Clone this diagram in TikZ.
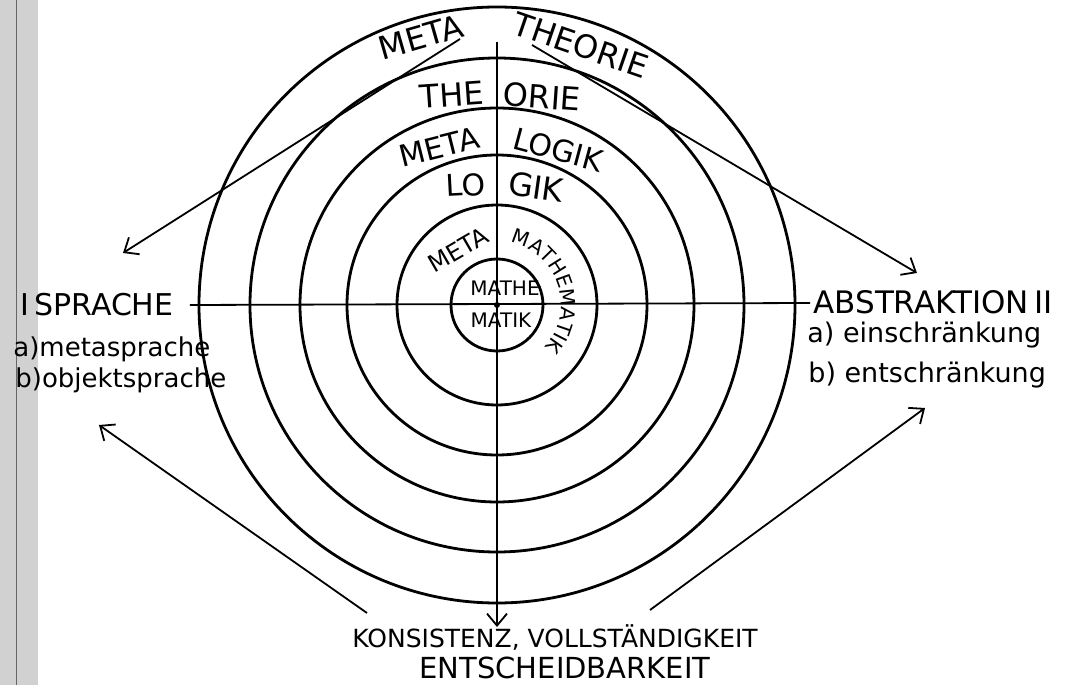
\documentclass[tikz,border=0pt]{standalone}
\usepackage{fontspec}
\setmainfont{DejaVu Sans}
\usetikzlibrary{arrows.meta,decorations.text}
\newcommand{\fsz}[1]{\fontsize{#1}{#1}\selectfont}

\begin{document}
\begin{tikzpicture}[x=0.5pt, y=0.5pt, every node/.style={inner sep=0pt},
  ring/.style={line width=1.4pt},
  axis/.style={line width=0.9pt},
  arr/.style={line width=0.9pt, -{Straight Barb[length=6pt,width=10pt]}}]
\useasboundingbox (-497,-380) rectangle (569,305);
% edge of the scanned sheet
\fill[black!18] (-497,-380) rectangle (-459,305);
\draw[black!60, line width=0.5pt] (-480,-380) -- (-480,305);

\coordinate (c) at (0,0);
\foreach \r in {298,247,197,150,100,46}
  \draw[ring] (c) circle (\r);

% axes
\coordinate (ytop) at (0,263);
\coordinate (ybot) at (0,-322);
\coordinate (xl) at (-307,0);
\coordinate (xr) at (313,2);
\draw[axis] (xl) -- (xr);
\draw[arr] (ytop) -- (ybot);
\fill (c) circle (3);

% rings
\node[rotate=16, font=\fsz{16}] (metaT) at (-76,268) {META};
\node[rotate=-19, font=\fsz{16}] (theorieT) at (84,260) {THEORIE};
\node[rotate=4, font=\fsz{16}] (the) at (-45,210) {THE};
\node[rotate=-4, font=\fsz{16}] (orie) at (45,208) {ORIE};
\node[rotate=14, font=\fsz{15}] (metaL) at (-58,158) {META};
\node[rotate=-15, font=\fsz{15}] (logikM) at (61,155) {LOGIK};
\node[rotate=3, font=\fsz{15}] (lo) at (-31,120) {LO};
\node[rotate=-8, font=\fsz{16}] (gik) at (39,118) {GIK};
\node[rotate=30, font=\fsz{12}] (metaM) at (-39,55) {META};
\path[decorate, decoration={text along path, text align=center,
  text={|\fsz{10}|MATHEMATIK}}] (78:64) arc[start angle=78, end angle=-42, radius=64];
\node[font=\fsz{10}] (mathe) at (8,17) {MATHE};
\node[font=\fsz{10}] (matik) at (4,-15) {MATIK};

% left
\node[anchor=west, font=\fsz{15}] (sprache) at (-477,0) {I\,SPRACHE};
\node[anchor=base west, font=\fsz{13}] (metaspr) at (-484,-52) {a)metasprache};
\node[anchor=base west, font=\fsz{13}] (objspr) at (-482,-83) {b)objektsprache};

% right
\node[anchor=west, font=\fsz{15.5}] (abstr) at (316,3) {ABSTRAKTION\,II};
\node[anchor=base west, font=\fsz{13.5}] (einschr) at (310,-38) {a) einschränkung};
\node[anchor=base west, font=\fsz{13.5}] (entschr) at (311,-77) {b) entschränkung};

% bottom
\node[anchor=base, font=\fsz{12.5}] (konsist) at (58,-342) {KONSISTENZ, VOLLSTÄNDIGKEIT};
\node[anchor=base, font=\fsz{14.5}] (entsch) at (68,-373) {ENTSCHEIDBARKEIT};

% arrows
\coordinate (tlA) at (-37,266);
\coordinate (tlB) at (-374,52);
\coordinate (trA) at (35,260);
\coordinate (trB) at (420,32);
\coordinate (blA) at (-130,-308);
\coordinate (blB) at (-398,-120);
\coordinate (brA) at (153,-305);
\coordinate (brB) at (428,-103);
\draw[arr] (tlA) -- (tlB);
\draw[arr] (trA) -- (trB);
\draw[arr] (blA) -- (blB);
\draw[arr] (brA) -- (brB);
\end{tikzpicture}
\end{document}
